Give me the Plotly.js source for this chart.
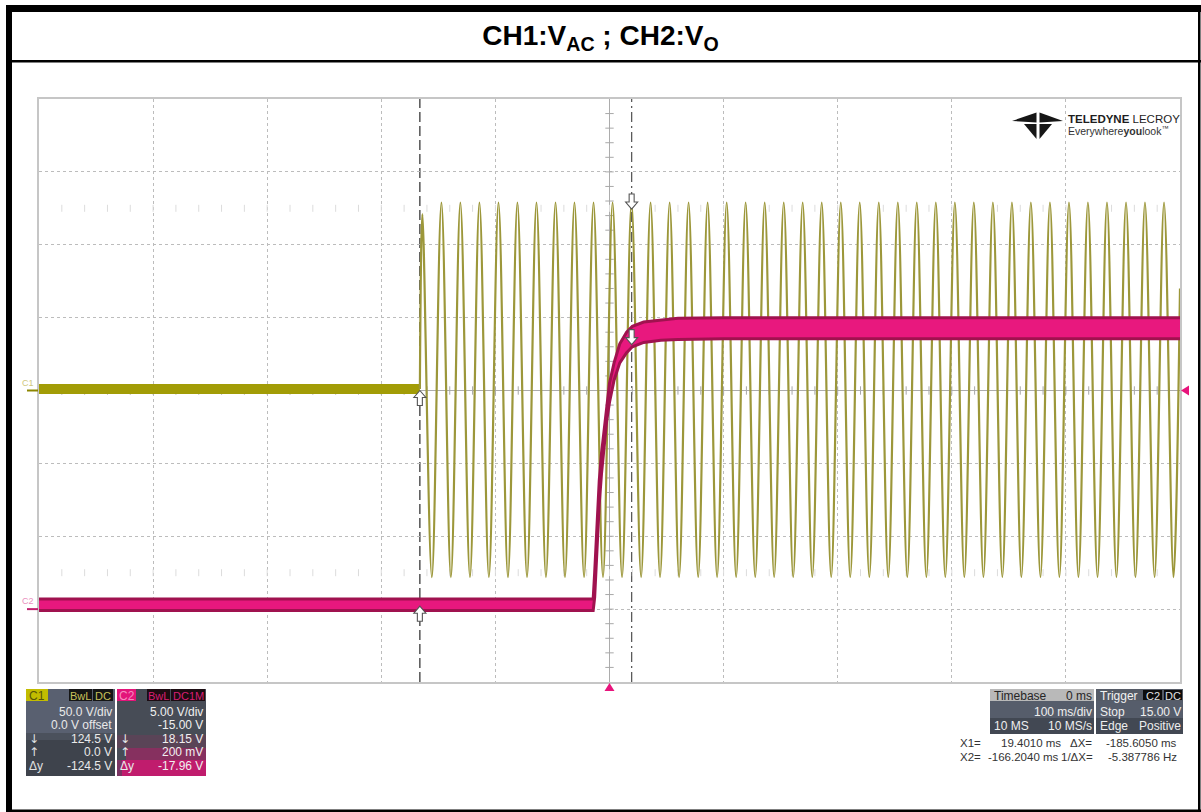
<!DOCTYPE html>
<html><head><meta charset="utf-8">
<script src="https://cdn.plot.ly/plotly-3.0.1.min.js"></script>
<style>html,body{margin:0;padding:0;background:#fff;}#chart{width:1201px;height:812px;}</style>
</head><body><div id="chart"></div>
<script>
// ---------------- DATA ----------------
// Time axis: 100 ms/div, trigger at centre (0 ms)
const timeRange = [-500, 500];
// CH1 (V_AC): 50 V/div, 0 V offset
const ch1Range = [-200, 200];
// CH2 (V_O): 5 V/div, -15 V offset -> centre = 15 V
const ch2Range = [-5, 35];

// CH1 before the AC is applied (flat)
const ch1FlatTime = [-500, -166.2];
const ch1FlatVolt = [1.0, 1.0];
// CH1 switch-on point and end of record
const ch1StartTime = -166.2, ch1StartVolt = 1.0;
const ch1EndTime = 500.0, ch1EndVolt = 70.0;
// CH1 60 Hz sine: peaks (ms, V)
const ch1PeakTime = [
  -164.0, -147.3, -130.7, -114.0, -97.3, -80.7, -64.0, -47.3, -30.7, -14.0,
     2.7,   19.3,   36.0,   52.7,  69.3,  86.0, 102.7, 119.3, 136.0, 152.7,
   169.3,  186.0,  202.7,  219.3, 236.0, 252.7, 269.3, 286.0, 302.7, 319.3,
   336.0,  352.7,  369.3,  386.0, 402.7, 419.3, 436.0, 452.7, 469.3, 486.0];
const ch1PeakVolt = [
  121, 129, 129, 129, 129, 129, 129, 129, 129, 129,
  129, 129, 129, 129, 129, 129, 129, 129, 129, 129,
  129, 129, 129, 129, 129, 129, 129, 129, 129, 129,
  129, 129, 129, 129, 129, 129, 129, 129, 129, 129];
// CH1 60 Hz sine: troughs (ms, V)
const ch1TroughTime = [
  -155.7, -139.0, -122.3, -105.7, -89.0, -72.3, -55.7, -39.0, -22.3, -5.7,
    11.0,   27.7,   44.3,   61.0,  77.7,  94.3, 111.0, 127.7, 144.3, 161.0,
   177.7,  194.3,  211.0,  227.7, 244.3, 261.0, 277.7, 294.3, 311.0, 327.7,
   344.3,  361.0,  377.7,  394.3, 411.0, 427.7, 444.3, 461.0, 477.7, 494.3];
const ch1TroughVolt = [
  -128, -128, -128, -128, -128, -128, -128, -128, -128, -128,
  -128, -128, -128, -128, -128, -128, -128, -128, -128, -128,
  -128, -128, -128, -128, -128, -128, -128, -128, -128, -128,
  -128, -128, -128, -128, -128, -128, -128, -128, -128, -128];

// CH2 output voltage envelope (ripple band), ms / V
const ch2Time  = [-500, -14.3, -13, -11, -9, -7, -5, -2.5, 0, 4, 9, 15, 20, 30, 45, 60, 100, 200, 300, 400, 500];
const ch2Upper = [0.7, 0.7, 2.5, 6.0, 8.8, 10.7, 12.2, 14.0, 15.5, 16.9, 18.2, 19.0, 19.4, 19.7, 19.85, 19.95, 20.0, 20.0, 20.0, 20.0, 20.0];
const ch2Lower = [-0.1, -0.1, 0.8, 4.2, 7.2, 9.3, 11.0, 12.9, 14.2, 15.7, 16.9, 17.6, 18.0, 18.3, 18.45, 18.5, 18.55, 18.55, 18.55, 18.55, 18.55];

// Cursors and trigger
const cursorX1 = 19.401, cursorX2 = -166.204;
const ch1AtX1 = 124.5, ch1AtX2 = 0.0;
const ch2AtX1 = 18.15, ch2AtX2 = 0.2;
const triggerTime = 0, triggerLevel = 15.0;

// Info panel texts
const c1Rows = ['50.0 V/div', '0.0 V offset', '124.5 V', '0.0 V', '-124.5 V'];
const c2Rows = ['5.00 V/div', '-15.00 V', '18.15 V', '200 mV', '-17.96 V'];
const rowSyms = ['↓', '↑', 'Δy'];

// build the CH1 sine polyline from the arrays
const ch1SineTime = [ch1StartTime], ch1SineVolt = [ch1StartVolt];
ch1PeakTime.forEach((t, i) => {
  ch1SineTime.push(t, ch1TroughTime[i]);
  ch1SineVolt.push(ch1PeakVolt[i], ch1TroughVolt[i]);
});
ch1SineTime.push(ch1EndTime); ch1SineVolt.push(ch1EndVolt);

// ---------------- LAYOUT HELPERS ----------------
const FONT = 'Liberation Sans, Arial, sans-serif';
const SYMFONT = 'DejaVu Sans, Liberation Sans, sans-serif';
const L = 39, R = 1180, T = 99, B = 682;
const px = x => (x - L) / (R - L);
const py = y => (B - y) / (B - T);
const shapes = [], ann = [];
function rect(x0, y0, x1, y1, fill) {
  shapes.push({type:'rect', xref:'paper', yref:'paper', x0:px(x0), x1:px(x1), y0:py(y1), y1:py(y0),
    fillcolor:fill, line:{width:0}, layer:'above'});
}
function poly(pts, fill) {
  const d = 'M' + pts.map(p => px(p[0]) + ',' + py(p[1])).join(' L') + ' Z';
  shapes.push({type:'path', xref:'paper', yref:'paper', path:d, fillcolor:fill, line:{width:0}, layer:'above'});
}
function txt(x, y, text, color, anchor, size, family) {
  ann.push({xref:'paper', yref:'paper', x:px(x), y:py(y), text:text, showarrow:false,
    xanchor:anchor || 'left', yanchor:'middle', borderpad:0,
    font:{family:family || FONT, size:size || 12, color:color}});
}

// outer frame
rect(6, 5, 1201, 12, '#000');
rect(6, 5, 12, 812, '#000');
rect(6, 60, 1201, 62.5, '#000');
rect(1198, 5, 1200.5, 812, '#000');
rect(6, 809.5, 1201, 812, '#000');

// ---- C1 info box ----
rect(26, 689, 115, 776, '#3e434c');
rect(26, 689, 115, 733, '#596070');
rect(26, 733, 115, 740, '#4b515c');
rect(26, 689, 48, 701, '#c2bc00');
txt(37, 695.5, 'C1', '#57540a', 'center', 12);
rect(69, 689, 92, 701, '#151515');
txt(80.5, 695.5, 'BwL', '#c8c05a', 'center', 11);
rect(93, 689, 113, 701, '#151515');
txt(103, 695.5, 'DC', '#c8c05a', 'center', 11);
// ---- C2 info box ----
rect(117, 689, 206, 776, '#474c56');
rect(117, 735, 206, 748, '#5a4457');
rect(126, 748, 206, 760, '#86305f');
rect(122, 760, 206, 776, '#c01c6d');
rect(117, 760, 122, 776, '#7a3463');
rect(117, 689, 136, 701, '#e3147a');
txt(126.5, 695.5, 'C2', '#f58cc0', 'center', 12);
rect(147, 689, 170, 701, '#1c0c12');
txt(158.5, 695.5, 'BwL', '#d81e72', 'center', 11);
rect(171, 689, 205, 701, '#1c0c12');
txt(188, 695.5, 'DC1M', '#d81e72', 'center', 11);
const rowY = [712, 725, 739, 752, 766];
c1Rows.forEach((s, i) => txt(113, rowY[i], s, '#e9e9e9', 'right', 12));
c2Rows.forEach((s, i) => txt(204, rowY[i], s, '#f0f0f0', 'right', 12));
rowSyms.forEach((s, i) => {
  const fam = s === 'Δy' ? FONT : SYMFONT;
  txt(28, rowY[i + 2], s, '#e0e0e0', 'left', 12, fam);
  txt(119, rowY[i + 2], s, '#e8e8e8', 'left', 12, fam);
});

// ---- Timebase / Trigger boxes ----
rect(990, 689, 1094, 734, '#424853');
rect(990, 701, 1094, 718, '#565d6b');
rect(990, 689, 1094, 701, '#b9b9b9');
txt(993, 695.5, 'Timebase', '#262626', 'left', 12);
txt(1093, 695.5, '0 ms', '#262626', 'right', 12);
txt(1093, 712, '100 ms/div', '#eeeeee', 'right', 12);
txt(993, 726, '10 MS', '#eeeeee', 'left', 12);
txt(1093, 726, '10 MS/s', '#eeeeee', 'right', 12);
rect(1096, 689, 1183, 734, '#424853');
rect(1096, 701, 1183, 718, '#565d6b');
rect(1096, 689, 1183, 701, '#555b66');
txt(1099, 695.5, 'Trigger', '#f2f2f2', 'left', 12);
rect(1143, 690, 1162, 700, '#0c0c0c');
txt(1152.5, 695.5, 'C2', '#e0e0e0', 'center', 11);
rect(1164, 690, 1182, 700, '#0c0c0c');
txt(1173, 695.5, 'DC', '#e0e0e0', 'center', 11);
txt(1099, 712, 'Stop', '#eeeeee', 'left', 12);
txt(1182, 712, '15.00 V', '#eeeeee', 'right', 12);
txt(1099, 726, 'Edge', '#eeeeee', 'left', 12);
txt(1182, 726, 'Positive', '#eeeeee', 'right', 12);
// cursor readout
const RS = 11.5;
txt(959, 743, 'X1=', '#333', 'left', RS);
txt(1062, 743, '19.4010 ms', '#333', 'right', RS);
txt(1093, 743, 'ΔX=', '#333', 'right', RS);
txt(1178, 743, '-185.6050 ms', '#333', 'right', RS);
txt(959, 757, 'X2=', '#333', 'left', RS);
txt(1060, 757, '-166.2040 ms', '#333', 'right', RS);
txt(1094, 757, '1/ΔX=', '#333', 'right', RS);
txt(1178, 757, '-5.387786 Hz', '#333', 'right', RS);

// ---- Logo ----
poly([[1012,121],[1036.5,112.5],[1036.5,122.5]], '#161616');
poly([[1063,121],[1039.5,112.5],[1039.5,122.5]], '#161616');
poly([[1024,124],[1036.5,124],[1036.5,139]], '#161616');
poly([[1039.5,124],[1052,124],[1039.5,139]], '#161616');
txt(1067, 119, '<b>TELEDYNE</b> LECROY', '#1e1e1e', 'left', 11.5);
txt(1067, 131, 'Everywhere<b>you</b>look<sup>™</sup>', '#333', 'left', 10.5);

// ---- channel labels ----
ann.push({xref:'paper', yref:'y', x:px(36), y:0, yanchor:'bottom', xanchor:'right', yshift:1, showarrow:false,
  text:'C1', font:{family:FONT, size:9, color:'#cfc77e'}});
shapes.push({type:'line', xref:'paper', yref:'y', x0:px(27), x1:px(38), y0:0, y1:0, line:{color:'#8c8600', width:2}, layer:'above'});
ann.push({xref:'paper', yref:'y2', x:px(36), y:0, yanchor:'bottom', xanchor:'right', yshift:1, showarrow:false,
  text:'C2', font:{family:FONT, size:9, color:'#ea8fc0'}});
shapes.push({type:'line', xref:'paper', yref:'y2', x0:px(27), x1:px(38), y0:0, y1:0, line:{color:'#c0206e', width:2}, layer:'above'});

// ---- cursors ----
shapes.push({type:'line', xref:'x', yref:'paper', x0:cursorX2, x1:cursorX2, y0:0, y1:1,
  line:{color:'#3a3a3a', width:1.3, dash:'10px,4px'}, layer:'between'});
shapes.push({type:'line', xref:'x', yref:'paper', x0:cursorX1, x1:cursorX1, y0:0, y1:1,
  line:{color:'#5a5a5a', width:1.3, dash:'10px,4px,2px,4px'}, layer:'between'});
function arrow(xv, yv, yref, dir) {
  const d = dir === 'down' ? 'M0,0 L-6,7 L-2.5,7 L-2.5,15 L2.5,15 L2.5,7 L6,7 Z'
                           : 'M0,0 L-6,-7 L-2.5,-7 L-2.5,-15 L2.5,-15 L2.5,-7 L6,-7 Z';
  shapes.push({type:'path', xref:'x', yref:yref, xsizemode:'pixel', ysizemode:'pixel', xanchor:xv, yanchor:yv,
    path:d, fillcolor:'#ffffff', line:{color:'#555', width:1.1}, layer:'above'});
}
arrow(cursorX1, ch1AtX1, 'y', 'down');
arrow(cursorX1, ch2AtX1, 'y2', 'down');
arrow(cursorX2, ch1AtX2, 'y', 'up');
arrow(cursorX2, ch2AtX2, 'y2', 'up');
// trigger markers
shapes.push({type:'path', xref:'x', yref:'paper', xsizemode:'pixel', ysizemode:'pixel', xanchor:triggerTime, yanchor:0,
  path:'M0,-1 L-5,-9 L5,-9 Z', fillcolor:'#e8147c', line:{width:0}, layer:'above'});
shapes.push({type:'path', xref:'paper', yref:'y2', xsizemode:'pixel', ysizemode:'pixel', xanchor:1, yanchor:triggerLevel,
  path:'M1,0 L9,5 L9,-5 Z', fillcolor:'#e8147c', line:{width:0}, layer:'above'});

// ---- graticule minor ticks (decoration) ----
const minorX = [], minorY = [];
for (let v = timeRange[0] + 20; v < timeRange[1]; v += 20) minorX.push(v);
for (let v = ch1Range[0] + 10; v < ch1Range[1]; v += 10) minorY.push(v);
const tickStyle = {width:1, color:'#a8a8a8'};
const traces = [
  {x:minorX, y:minorX.map(() => 0), mode:'markers', hoverinfo:'skip',
   marker:{symbol:'line-ns', size:6, line:tickStyle}},
  {x:minorY.map(() => 0), y:minorY, mode:'markers', hoverinfo:'skip',
   marker:{symbol:'line-ew', size:6, line:tickStyle}},
  {x:minorX.concat(minorX), y:minorX.map(() => 125).concat(minorX.map(() => -125)), mode:'markers', hoverinfo:'skip',
   marker:{symbol:'line-ns', size:5, line:{width:1, color:'#dcdcdc'}}},
  // CH1
  {x:ch1FlatTime, y:ch1FlatVolt, mode:'lines', line:{color:'#a29c06', width:10}, hoverinfo:'skip'},
  {x:ch1SineTime, y:ch1SineVolt, mode:'lines', line:{color:'#9c973a', width:2.2, shape:'spline', smoothing:1}, hoverinfo:'skip'},
  // CH2 ripple band
  {x:ch2Time, y:ch2Lower, yaxis:'y2', mode:'lines', line:{color:'#a0124f', width:3}, hoverinfo:'skip'},
  {x:ch2Time, y:ch2Upper, yaxis:'y2', mode:'lines', fill:'tonexty', fillcolor:'#e8187e',
   line:{color:'#a0124f', width:3}, hoverinfo:'skip'}
];

const axisCommon = {showgrid:true, gridcolor:'#bcbcbc', griddash:'dot', gridwidth:1, zeroline:true,
  zerolinecolor:'#acacac', zerolinewidth:1.5, showline:true, mirror:true, linecolor:'#c6c6c6', linewidth:2,
  ticks:'', showticklabels:false, fixedrange:true};
const layout = {
  width:1201, height:812, margin:{l:L, r:1201 - R, t:T, b:812 - B, pad:0},
  paper_bgcolor:'#ffffff', plot_bgcolor:'#ffffff', showlegend:false,
  title:{text:'<b>CH1:V<sub>AC</sub> ; CH2:V<sub>O</sub></b>', font:{family:FONT, size:28, color:'#000'},
    x:0.5, xref:'container', xanchor:'center', y:1 - 35 / 812, yref:'container', yanchor:'middle'},
  xaxis:Object.assign({range:timeRange, tick0:-500, dtick:100}, axisCommon),
  yaxis:Object.assign({range:ch1Range, tick0:-200, dtick:50}, axisCommon),
  yaxis2:{range:ch2Range, overlaying:'y', showgrid:false, zeroline:false, showticklabels:false, ticks:'',
    showline:false, fixedrange:true},
  shapes:shapes, annotations:ann
};
Plotly.newPlot('chart', traces, layout, {displayModeBar:false, staticPlot:true});
</script></body></html>
